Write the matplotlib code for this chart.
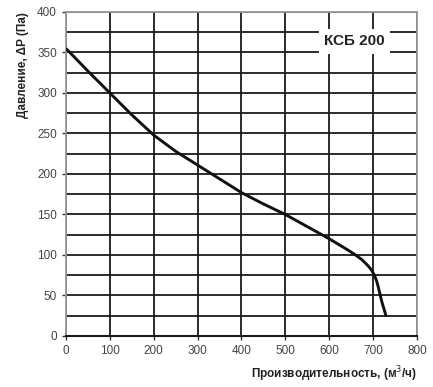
import matplotlib
matplotlib.use('Agg')
import matplotlib.pyplot as plt
import numpy as np

# данные кривой (м3/ч, Па)
flow = [0, 50, 100, 150, 200, 250, 300, 350, 400, 450, 500, 550, 600, 640, 660, 675, 688, 697, 703, 708, 712, 716, 720, 725, 730]
pressure = [355, 327, 300, 273, 248, 228, 211, 194, 177, 163, 150, 135, 120, 107, 100, 94, 87, 81, 75, 68, 60, 51, 42, 33, 24]
x_ticks = [0, 100, 200, 300, 400, 500, 600, 700, 800]
y_ticks = [0, 50, 100, 150, 200, 250, 300, 350, 400]
model = 'КСБ 200'

plt.rcParams['font.family'] = ['Liberation Sans', 'DejaVu Sans']

fig = plt.figure(figsize=(4.33, 3.87), dpi=100)
ax = fig.add_axes([0.1524, 0.1318, 0.8106, 0.8372])

ax.set_xlim(0, 800)
ax.set_ylim(0, 400)
ax.set_xticks(x_ticks)
ax.set_yticks(y_ticks)
ax.set_yticks(np.arange(25, 400, 50), minor=True)

ax.grid(True, which='both', color='#1a1a1a', linewidth=1.3)
ax.set_axisbelow(True)

ax.plot(flow, pressure, color='#111111', linewidth=2.1, solid_capstyle='butt',
        solid_joinstyle='round', zorder=3)

ax.text(658, 364, model, fontsize=11, fontweight='bold', ha='center', va='center',
        color='#222222', bbox=dict(facecolor='white', edgecolor='none', pad=4), zorder=4)

for s in ['left', 'right', 'top']:
    ax.spines[s].set_color('#999999')
    ax.spines[s].set_linewidth(1.3)
ax.spines['bottom'].set_color('#1a1a1a')
ax.spines['bottom'].set_linewidth(1.5)

ax.tick_params(which='major', direction='out', length=3, width=1, color='#333333',
               labelsize=8.5, labelcolor='#444444')
ax.tick_params(which='minor', length=0)

ax.set_xlabel('Производительность, (м$^3$/ч)', fontsize=8.5, fontweight='bold', color='#222222',
              loc='right', labelpad=5)
ax.set_ylabel('Давление, ΔP (Па)', fontsize=8.5, fontweight='bold', color='#222222',
              loc='top', labelpad=6)

fig.savefig('out.png', dpi=100)
